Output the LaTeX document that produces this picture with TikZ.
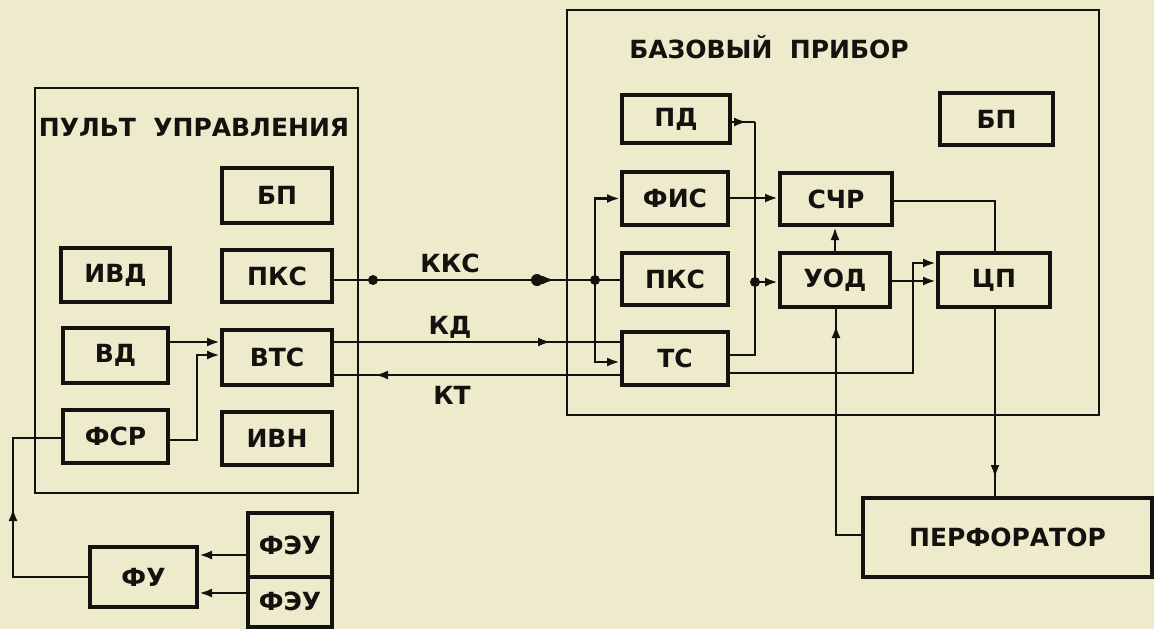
\documentclass[tikz,border=0pt]{standalone}
\usepackage{fontspec}
\setmainfont{DejaVu Sans}
\usetikzlibrary{arrows.meta,decorations.markings}
\definecolor{paper}{RGB}{238,234,204}
\definecolor{ink}{RGB}{20,18,14}
\begin{document}
\begin{tikzpicture}[x=0.5pt,y=-0.5pt,
  box/.style={draw=ink,line width=2pt,inner sep=0pt,font=\bfseries\fontsize{12.5}{12.5}\selectfont,text=ink},
  panel/.style={draw=ink,line width=1pt},
  wire/.style={draw=ink,line width=1.3pt},
  arr/.style={wire,-{Latex[length=6.5pt,width=4.5pt]}},
  midarr/.style={wire,postaction={decorate},decoration={markings,mark=at position #1 with {\arrow{Latex[length=6.5pt,width=4.5pt]}}}},
  lab/.style={font=\bfseries\fontsize{12.5}{12.5}\selectfont,text=ink},
  dot/.style={circle,fill=ink,inner sep=0pt,minimum size=#1}
]
\useasboundingbox (0,0) rectangle (1154,629);
\fill[paper] (0,0) rectangle (1154,629);

% panels
\draw[panel] (35,88) rectangle (358,493);
\draw[panel] (567,10) rectangle (1099,415);
\node[lab] (t1) at (194,127) {ПУЛЬТ\ \ УПРАВЛЕНИЯ};
\node[lab] (t2) at (769,47) {БАЗОВЫЙ\ \ ПРИБОР};

% left boxes
\node[box,minimum width=55pt,minimum height=27.5pt] (bp1) at (277,195.5) {БП};
\node[box,minimum width=54.5pt,minimum height=27pt] (ivd) at (115.5,275) {ИВД};
\node[box,minimum width=55pt,minimum height=26pt] (pks1) at (277,276) {ПКС};
\node[box,minimum width=52.5pt,minimum height=27.5pt] (vd) at (115.5,355.5) {ВД};
\node[box,minimum width=55pt,minimum height=27.5pt] (vts) at (277,357.5) {ВТС};
\node[box,minimum width=52.5pt,minimum height=26.5pt] (fsr) at (115.5,436.5) {ФСР};
\node[box,minimum width=55pt,minimum height=26.5pt] (ivn) at (277,438.5) {ИВН};
\node[box,minimum width=53.5pt,minimum height=30pt] (fu) at (143.5,577) {ФУ};
\node[box,minimum width=42pt,minimum height=32pt] (feu1) at (290,545) {ФЭУ};
\node[box,minimum width=42pt,minimum height=25pt] (feu2) at (290,601.5) {ФЭУ};

% right boxes
\node[box,minimum width=54pt,minimum height=24pt] (pd) at (676,119) {ПД};
\node[box,minimum width=53pt,minimum height=26.5pt] (fis) at (675,198.5) {ФИС};
\node[box,minimum width=53pt,minimum height=26pt] (pks2) at (675,279) {ПКС};
\node[box,minimum width=53pt,minimum height=26.5pt] (ts) at (675,358.5) {ТС};
\node[box,minimum width=56pt,minimum height=26pt] (schr) at (836,199) {СЧР};
\node[box,minimum width=55pt,minimum height=27pt] (uod) at (835,280) {УОД};
\node[box,minimum width=56pt,minimum height=27pt] (cp) at (994,280) {ЦП};
\node[box,minimum width=56.5pt,minimum height=26pt] (vp) at (996.5,119) {БП};
\node[box,minimum width=144.5pt,minimum height=39.5pt] (perf) at (1007.5,537.5) {ПЕРФОРАТОР};

% channel labels
\node[lab] (kks) at (450,263) {ККС};
\node[lab] (kd) at (450,327) {КД};
\node[lab] (kt) at (452,395) {КТ};

% left connections
\draw[arr] (vd.east |- 0,342) -- (vts.west |- 0,342);
\draw[arr] (fsr.east |- 0,440) -- (197,440) -- (197,355) -- (vts.west |- 0,355);
\draw[midarr=72pt] (fu.west) -- (13,577) -- (13,438) -- (fsr.west |- 0,438);
\draw[arr] (feu1.west |- 0,555) -- (fu.east |- 0,555);
\draw[arr] (feu2.west |- 0,593) -- (fu.east |- 0,593);

% channels
\draw[wire] (pks1.east |- 0,280) -- (pks2.west |- 0,280);
\node[dot=5pt] (d1) at (373,280) {};
\node[dot=6pt] (d2) at (537,280) {};
\draw[-{Latex[length=6.5pt,width=4.5pt]},draw=ink,line width=1.3pt] (d2.center) -- (555,280);
\draw[midarr=-34.5pt] (vts.east |- 0,342) -- (ts.west |- 0,342);
\draw[midarr=-20.5pt] (ts.west |- 0,375) -- (vts.east |- 0,375);

% right connections
\coordinate (j1) at (595,280);
\node[dot=5pt] at (j1) {};
\draw[arr] (j1) |- (fis.west);
\draw[arr] (j1) |- (ts.west |- 0,362);
\coordinate (j2) at (755,282);
\node[dot=5pt] at (j2) {};
\draw[midarr=-4pt] (pd.east |- 0,122) -- (755,122);
\draw[wire] (755,122) -- (j2);
\draw[wire] (ts.east |- 0,355) -- (755,355) -- (j2);
\draw[arr] (j2) -- (uod.west |- j2);
\draw[arr] (fis.east |- 0,198) -- (schr.west |- 0,198);
\draw[arr] (uod.north) -- (uod.north |- schr.south);
\draw[wire] (schr.east |- 0,201) -- (995,201) -- (cp.north -| 995,0);
\draw[arr] (uod.east |- 0,281) -- (cp.west |- 0,281);
\draw[arr] (ts.east |- 0,373) -- (913,373) -- (913,263) -- (cp.west |- 0,263);
\draw[midarr=-9pt] (cp.south -| 995,0) -- (perf.north -| 995,0);
\draw[midarr=-8pt] (perf.west |- 0,535) -- (836,535) -- (uod.south -| 836,0);
\end{tikzpicture}
\end{document}
